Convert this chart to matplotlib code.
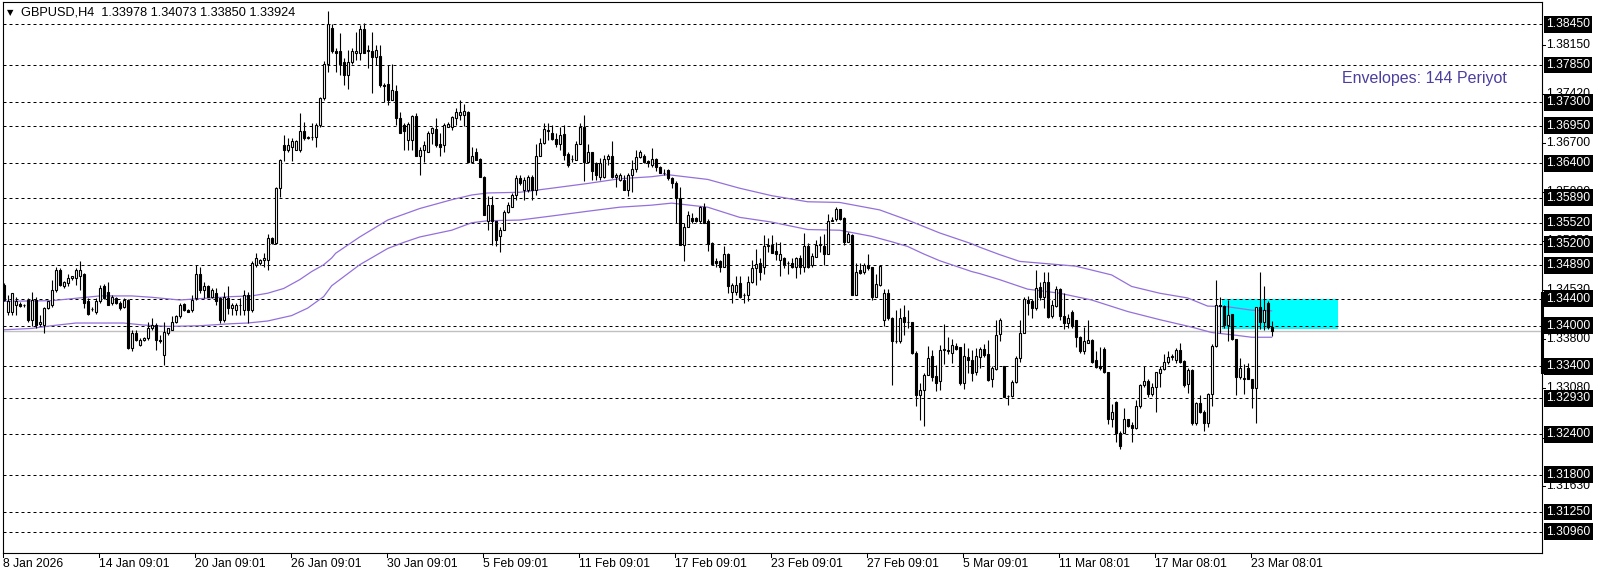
import numpy as np
import matplotlib
matplotlib.use("Agg")
import matplotlib.pyplot as plt
from matplotlib.patches import Rectangle
from matplotlib.transforms import blended_transform_factory, ScaledTranslation

plt.rcParams['font.family'] = ['Liberation Sans', 'DejaVu Sans']

# ---------------- data (GBPUSD H4) ----------------
opens = [
1.3460,1.3421,1.3421,1.3431,1.3432,1.3430,1.3438,1.3409,1.3438,1.3402,1.3401,1.3426,1.3431,1.3453,1.3482,1.3458,1.3463,1.3470,1.3470,1.3473,
1.3477,1.3436,1.3425,1.3421,1.3436,1.3458,1.3450,1.3433,1.3441,1.3433,1.3428,1.3438,1.3367,1.3389,1.3372,1.3379,1.3382,1.3396,1.3401,1.3379,
1.3357,1.3389,1.3394,1.3406,1.3414,1.3432,1.3423,1.3423,1.3441,1.3477,1.3453,1.3458,1.3443,1.3448,1.3441,1.3409,1.3441,1.3426,1.3423,1.3431,
1.3423,1.3446,1.3423,1.3490,1.3492,1.3497,1.3497,1.3529,1.3522,1.3603,1.3667,1.3660,1.3664,1.3660,1.3660,1.3687,1.3677,1.3679,1.3679,1.3696,
1.3736,1.3787,1.3839,1.3805,1.3805,1.3790,1.3770,1.3790,1.3802,1.3802,1.3838,1.3805,1.3806,1.3797,1.3798,1.3755,1.3757,1.3733,1.3747,1.3706,
1.3696,1.3674,1.3674,1.3709,1.3650,1.3660,1.3657,1.3684,1.3690,1.3669,1.3667,1.3694,1.3694,1.3706,1.3711,1.3711,1.3716,1.3642,1.3657,1.3646,
1.3620,1.3554,1.3578,1.3554,1.3532,1.3542,1.3568,1.3576,1.3593,1.3618,1.3600,1.3600,1.3620,1.3600,1.3650,1.3670,1.3689,1.3685,1.3675,1.3669,
1.3683,1.3654,1.3646,1.3645,1.3669,1.3693,1.3641,1.3656,1.3640,1.3620,1.3620,1.3646,1.3650,1.3620,1.3615,1.3615,1.3600,1.3623,1.3632,1.3649,
1.3650,1.3643,1.3637,1.3646,1.3635,1.3626,1.3630,1.3618,1.3610,1.3589,1.3519,1.3546,1.3559,1.3559,1.3554,1.3575,1.3555,1.3522,1.3495,1.3496,
1.3487,1.3506,1.3450,1.3450,1.3463,1.3446,1.3446,1.3465,1.3485,1.3492,1.3486,1.3518,1.3519,1.3511,1.3497,1.3500,1.3492,1.3492,1.3487,1.3500,
1.3486,1.3518,1.3490,1.3502,1.3519,1.3518,1.3506,1.3555,1.3557,1.3573,1.3559,1.3524,1.3534,1.3445,1.3482,1.3480,1.3490,1.3486,1.3443,1.3460,
1.3408,1.3449,1.3411,1.3377,1.3377,1.3413,1.3405,1.3405,1.3360,1.3298,1.3305,1.3328,1.3355,1.3326,1.3318,1.3364,1.3362,1.3360,1.3370,1.3368,
1.3315,1.3354,1.3350,1.3331,1.3354,1.3365,1.3358,1.3321,1.3336,1.3388,1.3340,1.3296,1.3296,1.3317,1.3353,1.3390,1.3438,1.3436,1.3426,1.3457,
1.3443,1.3464,1.3414,1.3429,1.3454,1.3414,1.3404,1.3421,1.3408,1.3384,1.3362,1.3375,1.3379,1.3350,1.3340,1.3365,1.3331,1.3263,1.3288,1.3242,
1.3242,1.3262,1.3254,1.3249,1.3281,1.3313,1.3319,1.3299,1.3310,1.3330,1.3336,1.3346,1.3354,1.3350,1.3364,1.3348,1.3314,1.3335,1.3256,1.3286,
1.3272,1.3257,1.3299,1.3370,1.3431,1.3429,1.3401,1.3417,1.3380,1.3324,1.3322,1.3337,1.3321,1.3308,1.3428,1.3405,1.3434,1.33978]

highs = [
1.3463,1.3445,1.3448,1.3443,1.3435,1.3432,1.3441,1.3450,1.3443,1.3416,1.3428,1.3437,1.3468,1.3487,1.3485,1.3466,1.3477,1.3474,1.3485,1.3495,
1.3478,1.3441,1.3428,1.3441,1.3460,1.3462,1.3465,1.3445,1.3443,1.3436,1.3441,1.3440,1.3394,1.3394,1.3382,1.3383,1.3406,1.3411,1.3404,1.3386,
1.3406,1.3397,1.3414,1.3416,1.3433,1.3434,1.3425,1.3446,1.3490,1.3487,1.3465,1.3460,1.3455,1.3455,1.3443,1.3450,1.3458,1.3433,1.3433,1.3441,
1.3453,1.3450,1.3495,1.3507,1.3499,1.3507,1.3536,1.3531,1.3605,1.3646,1.3681,1.3677,1.3677,1.3674,1.3714,1.3701,1.3680,1.3699,1.3699,1.3738,
1.3791,1.3864,1.3846,1.3810,1.3832,1.3795,1.3807,1.3810,1.3834,1.3844,1.3847,1.3815,1.3834,1.3815,1.3815,1.3758,1.3785,1.3787,1.3755,1.3716,
1.3699,1.3701,1.3711,1.3714,1.3664,1.3672,1.3687,1.3694,1.3706,1.3684,1.3699,1.3701,1.3709,1.3721,1.3733,1.3727,1.3717,1.3664,1.3662,1.3647,
1.3621,1.3591,1.3591,1.3554,1.3546,1.3571,1.3583,1.3596,1.3623,1.3623,1.3620,1.3623,1.3623,1.3669,1.3677,1.3699,1.3699,1.3696,1.3684,1.3694,
1.3696,1.3657,1.3652,1.3672,1.3699,1.3711,1.3669,1.3657,1.3642,1.3647,1.3652,1.3654,1.3672,1.3626,1.3625,1.3623,1.3625,1.3645,1.3660,1.3660,
1.3654,1.3645,1.3662,1.3647,1.3636,1.3632,1.3631,1.3620,1.3613,1.3605,1.3551,1.3569,1.3567,1.3560,1.3577,1.3581,1.3557,1.3523,1.3500,1.3497,
1.3517,1.3507,1.3463,1.3474,1.3473,1.3448,1.3473,1.3497,1.3514,1.3500,1.3534,1.3529,1.3534,1.3524,1.3524,1.3502,1.3495,1.3500,1.3502,1.3505,
1.3537,1.3522,1.3507,1.3527,1.3533,1.3536,1.3565,1.3560,1.3576,1.3573,1.3560,1.3539,1.3535,1.3492,1.3492,1.3493,1.3506,1.3487,1.3476,1.3490,
1.3454,1.3454,1.3413,1.3423,1.3426,1.3431,1.3423,1.3406,1.3362,1.3315,1.3330,1.3370,1.3364,1.3342,1.3372,1.3403,1.3384,1.3380,1.3375,1.3369,
1.3374,1.3367,1.3364,1.3367,1.3369,1.3373,1.3379,1.3340,1.3409,1.3411,1.3340,1.3298,1.3320,1.3355,1.3408,1.3443,1.3444,1.3439,1.3483,1.3465,
1.3480,1.3480,1.3438,1.3458,1.3455,1.3448,1.3417,1.3423,1.3409,1.3385,1.3398,1.3409,1.3380,1.3362,1.3369,1.3368,1.3331,1.3284,1.3289,1.3245,
1.3278,1.3263,1.3258,1.3290,1.3314,1.3341,1.3321,1.3315,1.3332,1.3340,1.3359,1.3362,1.3359,1.3367,1.3374,1.3349,1.3337,1.3336,1.3288,1.3298,
1.3276,1.3301,1.3373,1.3467,1.3442,1.3431,1.3438,1.3417,1.3381,1.3352,1.3344,1.3345,1.3322,1.3428,1.3480,1.3458,1.3436,1.34073]

lows = [
1.3436,1.3416,1.3416,1.3416,1.3428,1.3428,1.3406,1.3399,1.3396,1.3399,1.3389,1.3424,1.3428,1.3450,1.3458,1.3455,1.3458,1.3468,1.3460,1.3453,
1.3426,1.3416,1.3422,1.3418,1.3433,1.3440,1.3430,1.3431,1.3432,1.3423,1.3426,1.3366,1.3362,1.3377,1.3370,1.3377,1.3379,1.3394,1.3364,1.3374,
1.3342,1.3387,1.3394,1.3404,1.3411,1.3422,1.3420,1.3421,1.3438,1.3448,1.3441,1.3442,1.3441,1.3431,1.3404,1.3406,1.3418,1.3416,1.3416,1.3416,
1.3416,1.3404,1.3421,1.3487,1.3490,1.3487,1.3482,1.3521,1.3520,1.3590,1.3643,1.3657,1.3643,1.3659,1.3657,1.3674,1.3676,1.3674,1.3664,1.3694,
1.3733,1.3775,1.3802,1.3775,1.3770,1.3755,1.3750,1.3787,1.3792,1.3792,1.3802,1.3780,1.3743,1.3785,1.3753,1.3731,1.3726,1.3733,1.3696,1.3684,
1.3660,1.3660,1.3660,1.3650,1.3623,1.3642,1.3656,1.3669,1.3664,1.3650,1.3657,1.3694,1.3689,1.3696,1.3704,1.3695,1.3642,1.3642,1.3645,1.3620,
1.3564,1.3541,1.3519,1.3517,1.3509,1.3541,1.3566,1.3575,1.3586,1.3608,1.3586,1.3598,1.3586,1.3593,1.3650,1.3669,1.3674,1.3674,1.3664,1.3660,
1.3645,1.3635,1.3642,1.3645,1.3669,1.3613,1.3640,1.3615,1.3615,1.3615,1.3618,1.3637,1.3618,1.3605,1.3613,1.3600,1.3591,1.3598,1.3627,1.3647,
1.3640,1.3635,1.3635,1.3628,1.3625,1.3623,1.3615,1.3603,1.3551,1.3519,1.3495,1.3546,1.3551,1.3553,1.3551,1.3551,1.3511,1.3490,1.3486,1.3480,
1.3487,1.3448,1.3433,1.3446,1.3441,1.3434,1.3437,1.3463,1.3460,1.3468,1.3477,1.3509,1.3508,1.3497,1.3474,1.3485,1.3477,1.3485,1.3470,1.3477,
1.3480,1.3485,1.3487,1.3502,1.3509,1.3490,1.3506,1.3554,1.3555,1.3556,1.3519,1.3523,1.3445,1.3445,1.3477,1.3477,1.3482,1.3438,1.3443,1.3458,
1.3399,1.3408,1.3313,1.3374,1.3374,1.3386,1.3396,1.3359,1.3281,1.3261,1.3252,1.3327,1.3318,1.3303,1.3305,1.3344,1.3359,1.3345,1.3364,1.3313,
1.3306,1.3330,1.3318,1.3327,1.3337,1.3354,1.3318,1.3310,1.3335,1.3377,1.3295,1.3283,1.3295,1.3315,1.3347,1.3389,1.3416,1.3412,1.3423,1.3438,
1.3426,1.3411,1.3411,1.3428,1.3409,1.3395,1.3396,1.3396,1.3369,1.3360,1.3359,1.3374,1.3345,1.3337,1.3335,1.3330,1.3255,1.3251,1.3229,1.3218,
1.3241,1.3251,1.3229,1.3247,1.3278,1.3310,1.3295,1.3296,1.3273,1.3310,1.3334,1.3344,1.3349,1.3345,1.3345,1.3310,1.3300,1.3253,1.3253,1.3271,
1.3245,1.3251,1.3281,1.3369,1.3389,1.3396,1.3377,1.3379,1.3298,1.3322,1.3299,1.3321,1.3278,1.3256,1.3395,1.3394,1.3395,1.33850]

closes = [
1.3438,1.3436,1.3448,1.3436,1.3429,1.3431,1.3409,1.3438,1.3401,1.3405,1.3426,1.3436,1.3453,1.3482,1.3460,1.3465,1.3470,1.3473,1.3482,1.3482,
1.3433,1.3418,1.3424,1.3436,1.3455,1.3441,1.3431,1.3443,1.3433,1.3426,1.3438,1.3367,1.3389,1.3379,1.3379,1.3382,1.3396,1.3401,1.3379,1.3378,
1.3391,1.3396,1.3406,1.3414,1.3431,1.3423,1.3421,1.3438,1.3477,1.3453,1.3458,1.3443,1.3453,1.3436,1.3409,1.3443,1.3426,1.3431,1.3431,1.3430,
1.3446,1.3423,1.3492,1.3500,1.3497,1.3500,1.3529,1.3522,1.3603,1.3645,1.3660,1.3667,1.3672,1.3672,1.3687,1.3677,1.3679,1.3679,1.3696,1.3736,
1.3787,1.3845,1.3805,1.3803,1.3787,1.3770,1.3790,1.3805,1.3805,1.3838,1.3803,1.3807,1.3797,1.3807,1.3755,1.3754,1.3733,1.3748,1.3706,1.3685,
1.3687,1.3698,1.3709,1.3651,1.3660,1.3667,1.3685,1.3692,1.3667,1.3664,1.3696,1.3698,1.3708,1.3716,1.3716,1.3717,1.3642,1.3651,1.3645,1.3620,
1.3564,1.3578,1.3554,1.3527,1.3542,1.3568,1.3578,1.3593,1.3618,1.3610,1.3615,1.3620,1.3600,1.3650,1.3670,1.3690,1.3687,1.3675,1.3669,1.3682,
1.3652,1.3637,1.3646,1.3669,1.3693,1.3641,1.3656,1.3628,1.3623,1.3640,1.3646,1.3651,1.3620,1.3622,1.3623,1.3600,1.3623,1.3632,1.3649,1.3657,
1.3642,1.3640,1.3646,1.3635,1.3625,1.3626,1.3618,1.3610,1.3588,1.3519,1.3546,1.3564,1.3554,1.3554,1.3575,1.3552,1.3521,1.3491,1.3492,1.3487,
1.3506,1.3458,1.3460,1.3460,1.3443,1.3446,1.3465,1.3485,1.3491,1.3480,1.3517,1.3519,1.3508,1.3506,1.3506,1.3490,1.3492,1.3487,1.3500,1.3486,
1.3518,1.3487,1.3503,1.3519,1.3520,1.3506,1.3555,1.3556,1.3573,1.3557,1.3524,1.3535,1.3445,1.3480,1.3478,1.3490,1.3485,1.3443,1.3462,1.3488,
1.3449,1.3411,1.3377,1.3378,1.3411,1.3405,1.3406,1.3360,1.3298,1.3305,1.3328,1.3353,1.3325,1.3315,1.3364,1.3365,1.3364,1.3372,1.3365,1.3315,
1.3355,1.3349,1.3330,1.3355,1.3365,1.3357,1.3320,1.3337,1.3387,1.3409,1.3295,1.3297,1.3317,1.3353,1.3390,1.3440,1.3434,1.3426,1.3455,1.3443,
1.3464,1.3413,1.3431,1.3454,1.3414,1.3404,1.3411,1.3400,1.3384,1.3362,1.3378,1.3379,1.3347,1.3339,1.3337,1.3331,1.3263,1.3273,1.3242,1.3222,
1.3262,1.3252,1.3249,1.3281,1.3313,1.3319,1.3299,1.3310,1.3331,1.3336,1.3346,1.3354,1.3355,1.3364,1.3347,1.3313,1.3335,1.3256,1.3286,1.3272,
1.3257,1.3299,1.3370,1.3431,1.3429,1.3401,1.3416,1.3380,1.3324,1.3337,1.3323,1.3322,1.3308,1.3428,1.3405,1.3423,1.3398,1.33924]

# Envelopes (144) read at sample bars
env_upper_bar = [0, 12, 24, 32, 37, 44, 49, 57, 62, 66, 70, 74, 77, 80, 82, 83, 89, 96, 104, 112, 117, 121, 129, 137, 146,
                 154, 162, 166, 176, 184, 192, 201, 209, 219, 226, 234, 242, 244, 249, 254, 262, 268, 277, 282, 289, 296,
                 301, 306, 312, 317]
env_upper = [1.3436, 1.3437, 1.3444, 1.3444, 1.3442, 1.3438, 1.3440, 1.3443, 1.3444, 1.3448, 1.3455, 1.3468, 1.3480, 1.3490,
             1.3500, 1.3507, 1.3531, 1.3556, 1.3573, 1.3586, 1.3593, 1.3596, 1.3597, 1.3603, 1.3610, 1.3617, 1.3620, 1.3623,
             1.3616, 1.3603, 1.3592, 1.3583, 1.3582, 1.3571, 1.3556, 1.3537, 1.3521, 1.3516, 1.3505, 1.3495, 1.3491, 1.3488,
             1.3475, 1.3458, 1.3448, 1.3441, 1.3429, 1.3428, 1.3423, 1.3422]
env_lower_bar = [0, 7, 12, 18, 30, 35, 41, 49, 57, 61, 66, 72, 76, 80, 82, 89, 96, 100, 104, 112, 117, 121, 129, 137, 146,
                 154, 162, 167, 176, 184, 192, 201, 209, 217, 222, 226, 230, 234, 238, 242, 244, 249, 256, 264, 272, 281,
                 289, 297, 302, 308, 312, 317]
env_lower = [1.3394, 1.3396, 1.3400, 1.3404, 1.3404, 1.3401, 1.3399, 1.3400, 1.3403, 1.3404, 1.3407, 1.3415, 1.3426, 1.3443,
             1.3459, 1.3490, 1.3514, 1.3523, 1.3531, 1.3541, 1.3552, 1.3555, 1.3556, 1.3562, 1.3569, 1.3575, 1.3578, 1.3581,
             1.3575, 1.3560, 1.3553, 1.3542, 1.3541, 1.3532, 1.3524, 1.3517, 1.3506, 1.3496, 1.3488, 1.3480, 1.3477, 1.3468,
             1.3454, 1.3448, 1.3438, 1.3421, 1.3409, 1.3398, 1.3390, 1.3386, 1.3383, 1.3383]

# horizontal levels (dashed) and their labels
levels = [1.38450, 1.37850, 1.37300, 1.36950, 1.36400, 1.35890, 1.35520, 1.35200, 1.34890,
          1.34400, 1.34000, 1.33400, 1.32930, 1.32400, 1.31800, 1.31250, 1.30960]
scale_ticks = [1.38150, 1.37420, 1.36700, 1.35980, 1.35250, 1.34530, 1.33800, 1.33080, 1.32350, 1.31630]
bid_price = 1.33924
scale_mark = (1.33317, 1.34483)   # thick mark on the price scale border

# zone (cyan)
zone_bars = (304.75, 333.75)
zone_prices = (1.33952, 1.34395)

date_bars = [0, 24, 48, 72, 96, 120, 144, 168, 192, 216, 240, 264, 288, 312]
date_labels = ['8 Jan 2026', '14 Jan 09:01', '20 Jan 09:01', '26 Jan 09:01', '30 Jan 09:01', '5 Feb 09:01',
               '11 Feb 09:01', '17 Feb 09:01', '23 Feb 09:01', '27 Feb 09:01', '5 Mar 09:01', '11 Mar 08:01',
               '17 Mar 08:01', '23 Mar 08:01']

title = 'GBPUSD,H4  1.33978 1.34073 1.33850 1.33924'
indicator_text = 'Envelopes: 144 Periyot'

# ---------------- figure ----------------
W, H = 1606, 577
fig = plt.figure(figsize=(W / 100, H / 100), dpi=100)
fig.patch.set_facecolor('white')
ax = fig.add_axes([3 / W, 24 / H, 1539 / W, 551 / H])
ax.set_xlim(-0.175, 384.6)
ax.set_ylim(1.30645, 1.38779)
ax.set_xticks([])
ax.set_yticks([])
for s in ax.spines.values():
    s.set_color('black')
    s.set_linewidth(0.8)

# zone
ax.add_patch(Rectangle((zone_bars[0] - 0.25, zone_prices[0]), zone_bars[1] - zone_bars[0],
                       zone_prices[1] - zone_prices[0], facecolor='#00FFFF', edgecolor='none', zorder=0.5))

# levels
for lv in levels:
    ax.axhline(lv, color='black', lw=0.72, ls=(0, (3, 3)), zorder=1)
ax.axhline(bid_price, color='#C0C0C0', lw=1.0, zorder=1)

# envelopes
ax.plot(env_upper_bar, env_upper, color='#9370DB', lw=0.9, zorder=2)
ax.plot(env_lower_bar, env_lower, color='#9370DB', lw=0.9, zorder=2)

# candles
o = np.array(opens); h = np.array(highs); l = np.array(lows); c = np.array(closes)
x = np.arange(len(o))
up = c >= o
ax.vlines(x, l, h, color='black', lw=0.8, zorder=3)
ax.bar(x, np.abs(c - o), bottom=np.minimum(o, c), width=0.55,
       color=np.where(up, 'white', 'black'), edgecolor='black', linewidth=0.8, zorder=4)

# right price scale
bt = blended_transform_factory(ax.transAxes, ax.transData)
off = ScaledTranslation(4 / 100, 0, fig.dpi_scale_trans)
ax.plot([1, 1], list(scale_mark), transform=bt, clip_on=False, color='black', lw=2.2, zorder=5)
for v in scale_ticks:
    ax.plot([1, 1 + 3 / 1539], [v, v], transform=bt, clip_on=False, color='black', lw=0.75)
    ax.text(1, v, f'{v:.5f}', transform=bt + off, ha='left', va='center', fontsize=8.7,
            color='black', clip_on=False, zorder=5)
for v in levels:
    ax.text(1, v, f'{v:.5f}', transform=bt + off, ha='left', va='center', fontsize=8.7,
            color='white', clip_on=False, zorder=6,
            bbox=dict(boxstyle='square,pad=0.2', facecolor='black', edgecolor='none'))

# bottom time scale
bx = blended_transform_factory(ax.transData, ax.transAxes)
offd = ScaledTranslation(0, -5 / 100, fig.dpi_scale_trans)
for b, lab in zip(date_bars, date_labels):
    ax.plot([b - 0.2, b - 0.2], [0, -4 / 551], transform=bx, clip_on=False, color='black', lw=0.75)
    ax.text(b - 0.2, 0, lab, transform=bx + offd, ha='left', va='top', fontsize=8.7, color='black')

# title & indicator label
fig.text(7 / W, 1 - 12.5 / H, '\u25BC', fontsize=6, va='center', ha='left', color='black',
         family=['DejaVu Sans'])
fig.text(21 / W, 1 - 12.5 / H, title, fontsize=9.2, va='center', ha='left', color='black')
fig.text(1507 / W, 1 - 78 / H, indicator_text, fontsize=11.5, va='center', ha='right', color='#4B3F9E')

fig.savefig('out.png', dpi=100)
